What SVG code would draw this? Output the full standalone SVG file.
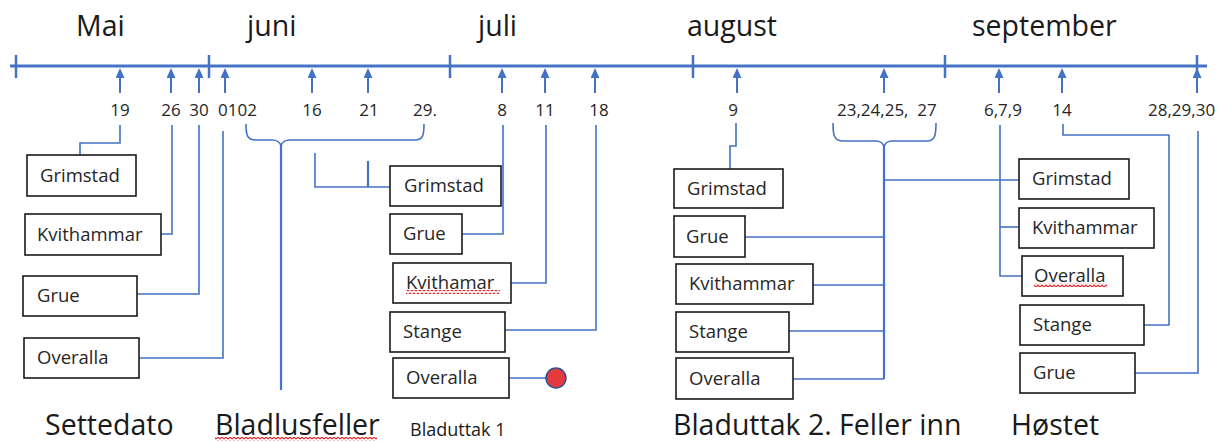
<svg xmlns="http://www.w3.org/2000/svg" width="1228" height="443" viewBox="0 0 1228 443">
<style>
.bg{fill:#ffffff}
.tl{stroke:#4472C4;stroke-width:3;fill:none}
.tk{stroke:#4472C4;stroke-width:2.5}
.ar{stroke:#4472C4;stroke-width:2}
.cn{stroke:#4472C4;stroke-width:1.6;fill:none}
.cnb{stroke:#4472C4;stroke-width:2.2;fill:none}
.bx{fill:#ffffff;stroke:#1a1a1a;stroke-width:1.6}
.bt{font-family:"Open Sans","Liberation Sans",sans-serif;font-size:18.5px;fill:#262626}
.num{font-family:"Open Sans","Liberation Sans",sans-serif;font-size:17px;fill:#262626}
.big{font-family:"Open Sans","Liberation Sans",sans-serif;font-size:28.5px;fill:#1a1a1a}
.sm{font-family:"Open Sans","Liberation Sans",sans-serif;font-size:18px;fill:#1a1a1a}
.sq{fill:url(#squig)}
</style>
<defs>
<marker id="ah" viewBox="0 0 10 9" refX="0" refY="4.5" markerWidth="10" markerHeight="9" markerUnits="userSpaceOnUse" orient="auto">
<path d="M0,0 L10,4.5 L0,9 z" fill="#4472C4"/>
</marker>
<pattern id="squig" x="0" y="0" width="4" height="4" patternUnits="userSpaceOnUse">
<path d="M0,3 L2,1 L4,3" stroke="#e0282d" stroke-width="1.2" fill="none"/>
</pattern>
</defs>
<rect class="bg" x="0" y="0" width="1228" height="443"/>

<g id="timeline">
<line class="tl" x1="10" y1="66" x2="1207" y2="66"/>
<line class="tk" x1="16" y1="55" x2="16" y2="78"/>
<line class="tk" x1="209" y1="55" x2="209" y2="78"/>
<line class="tk" x1="450" y1="55" x2="450" y2="78"/>
<line class="tk" x1="693" y1="55" x2="693" y2="78"/>
<line class="tk" x1="945" y1="55" x2="945" y2="78"/>
<line class="tk" x1="1197" y1="55" x2="1197" y2="78"/>
</g>

<g id="months">
<text class="big" x="76" y="36">Mai</text>
<text class="big" x="247" y="36">juni</text>
<text class="big" x="478" y="36">juli</text>
<text class="big" x="687" y="36">august</text>
<text class="big" x="972" y="36">september</text>
</g>

<g id="arrows">
<line class="ar" x1="120" y1="93" x2="120" y2="78" marker-end="url(#ah)"/>
<line class="ar" x1="171" y1="93" x2="171" y2="78" marker-end="url(#ah)"/>
<line class="ar" x1="199" y1="93" x2="199" y2="78" marker-end="url(#ah)"/>
<line class="ar" x1="225" y1="93" x2="225" y2="78" marker-end="url(#ah)"/>
<line class="ar" x1="312" y1="93" x2="312" y2="78" marker-end="url(#ah)"/>
<line class="ar" x1="368" y1="93" x2="368" y2="78" marker-end="url(#ah)"/>
<line class="ar" x1="502" y1="93" x2="502" y2="78" marker-end="url(#ah)"/>
<line class="ar" x1="545" y1="93" x2="545" y2="78" marker-end="url(#ah)"/>
<line class="ar" x1="595" y1="93" x2="595" y2="78" marker-end="url(#ah)"/>
<line class="ar" x1="737" y1="93" x2="737" y2="78" marker-end="url(#ah)"/>
<line class="ar" x1="884" y1="93" x2="884" y2="78" marker-end="url(#ah)"/>
<line class="ar" x1="999" y1="93" x2="999" y2="78" marker-end="url(#ah)"/>
<line class="ar" x1="1062" y1="93" x2="1062" y2="78" marker-end="url(#ah)"/>
<line class="ar" x1="1197" y1="93" x2="1197" y2="78" marker-end="url(#ah)"/>
</g>

<g id="dates">
<text class="num" x="120" y="116" text-anchor="middle">19</text>
<text class="num" x="171" y="116" text-anchor="middle">26</text>
<text class="num" x="199" y="116" text-anchor="middle">30</text>
<text class="num" x="218" y="116">0102</text>
<text class="num" x="312" y="116" text-anchor="middle">16</text>
<text class="num" x="369" y="116" text-anchor="middle">21</text>
<text class="num" x="413" y="116">29.</text>
<text class="num" x="502" y="116" text-anchor="middle">8</text>
<text class="num" x="545" y="116" text-anchor="middle">11</text>
<text class="num" x="599" y="116" text-anchor="middle">18</text>
<text class="num" x="733" y="116" text-anchor="middle">9</text>
<text class="num" x="837" y="116" xml:space="preserve">23,24,25,  27</text>
<text class="num" x="984" y="116">6,7,9</text>
<text class="num" x="1062" y="116" text-anchor="middle">14</text>
<text class="num" x="1148" y="116">28,29,30</text>
</g>

<g id="connectors">
<path class="cn" d="M120,125 V143 H80 V155"/>
<path class="cn" d="M172,125 V234 H161"/>
<path class="cn" d="M199,125 V294 H137"/>
<path class="cn" d="M223,131 V358 H139"/>
<path class="cn" d="M246,124 C246,135 247,140 256,140 H272 C278,140 280,142 281,146 C282,142 284,140 290,140 H415 C423,140 424,135 424,124"/>
<path class="cnb" d="M281,146 V390"/>
<path class="cn" d="M315,153 V187 H390"/>
<path class="cnb" d="M368,161 V187"/>
<path class="cn" d="M503,125 V234 H462"/>
<path class="cn" d="M546,125 V283 H511"/>
<path class="cn" d="M596,125 V330 H505"/>
<path class="cn" d="M509,378 H546"/>
<path class="cn" d="M736,123 V146 H730 V169"/>
<path class="cn" d="M833,123 C833,135 834,141 843,141 H876 C881,141 883,143 884,147 C885,143 887,141 892,141 H927 C935,141 936,135 936,123"/>
<path class="cnb" d="M884,147 V379"/>
<path class="cn" d="M884,180 H1019"/>
<path class="cn" d="M884,237 H745"/>
<path class="cn" d="M884,285 H813"/>
<path class="cn" d="M884,331 H789"/>
<path class="cn" d="M884,379 H793"/>
<path class="cn" d="M1000,125 V276 H1022"/>
<path class="cn" d="M1000,227 H1019"/>
<path class="cn" d="M1063,124 V135 H1169 V325 H1144"/>
<path class="cn" d="M1198,131 V373 H1135"/>
</g>

<g id="n-settedato-grimstad"><rect class="bx" x="27" y="155" width="109" height="41"/><text class="bt" x="40" y="182">Grimstad</text></g>
<g id="n-settedato-kvithammar"><rect class="bx" x="25" y="214" width="136" height="41"/><text class="bt" x="37" y="241">Kvithammar</text></g>
<g id="n-settedato-grue"><rect class="bx" x="23" y="276" width="114" height="40"/><text class="bt" x="37" y="302">Grue</text></g>
<g id="n-settedato-overalla"><rect class="bx" x="24" y="338" width="115" height="40"/><text class="bt" x="37" y="364">Overalla</text></g>

<g id="n-b1-grimstad"><rect class="bx" x="390" y="166" width="111" height="40"/><text class="bt" x="404" y="192">Grimstad</text></g>
<g id="n-b1-grue"><rect class="bx" x="390" y="214" width="72" height="40"/><text class="bt" x="403" y="240">Grue</text></g>
<g id="n-b1-kvithamar"><rect class="bx" x="393" y="263" width="118" height="40"/><text class="bt" x="406" y="289">Kvithamar</text><rect class="sq" x="406" y="290" width="94" height="4"/></g>
<g id="n-b1-stange"><rect class="bx" x="390" y="312" width="115" height="40"/><text class="bt" x="403" y="338">Stange</text></g>
<g id="n-b1-overalla"><rect class="bx" x="393" y="358" width="116" height="40"/><text class="bt" x="406" y="384">Overalla</text></g>
<g id="n-red-dot"><circle cx="556" cy="378" r="10" fill="#e53a3d" stroke="#2f528f" stroke-width="1.5"/></g>

<g id="n-b2-grimstad"><rect class="bx" x="674" y="169" width="109" height="39"/><text class="bt" x="687" y="195">Grimstad</text></g>
<g id="n-b2-grue"><rect class="bx" x="674" y="216" width="71" height="41"/><text class="bt" x="686" y="243">Grue</text></g>
<g id="n-b2-kvithammar"><rect class="bx" x="676" y="264" width="137" height="40"/><text class="bt" x="689" y="290">Kvithammar</text></g>
<g id="n-b2-stange"><rect class="bx" x="676" y="312" width="113" height="40"/><text class="bt" x="689" y="338">Stange</text></g>
<g id="n-b2-overalla"><rect class="bx" x="676" y="358" width="117" height="41"/><text class="bt" x="689" y="385">Overalla</text></g>

<g id="n-h-grimstad"><rect class="bx" x="1019" y="159" width="110" height="40"/><text class="bt" x="1032" y="185">Grimstad</text></g>
<g id="n-h-kvithammar"><rect class="bx" x="1019" y="208" width="135" height="40"/><text class="bt" x="1032" y="234">Kvithammar</text></g>
<g id="n-h-overalla"><rect class="bx" x="1022" y="256" width="101" height="40"/><text class="bt" x="1034" y="282">Overalla</text><rect class="sq" x="1034" y="283" width="73" height="4"/></g>
<g id="n-h-stange"><rect class="bx" x="1020" y="305" width="124" height="40"/><text class="bt" x="1033" y="331">Stange</text></g>
<g id="n-h-grue"><rect class="bx" x="1020" y="353" width="115" height="40"/><text class="bt" x="1033" y="379">Grue</text></g>

<g id="captions">
<text class="big" x="45" y="435">Settedato</text>
<text class="big" x="215" y="435">Bladlusfeller</text>
<rect class="sq" x="215" y="437" width="162" height="4"/>
<text class="sm" x="410" y="436">Bladuttak 1</text>
<text class="big" x="673" y="435">Bladuttak 2. Feller inn</text>
<text class="big" x="1011" y="435">Høstet</text>
</g>
</svg>
